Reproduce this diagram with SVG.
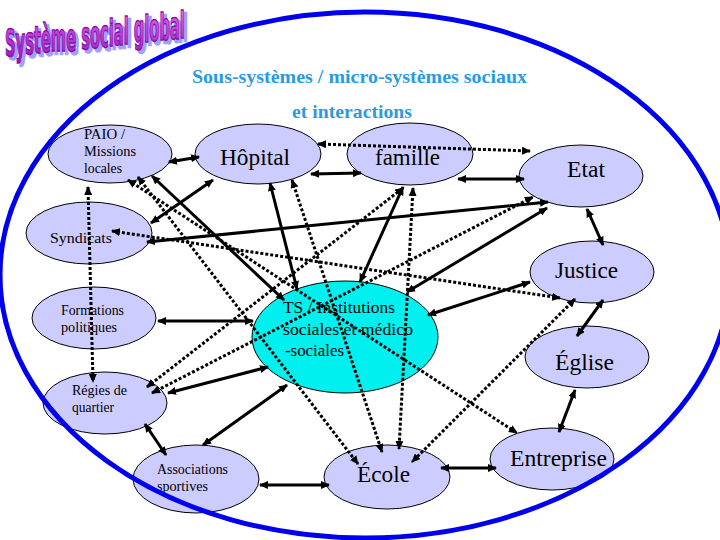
<svg xmlns="http://www.w3.org/2000/svg" width="720" height="540" viewBox="0 0 720 540">
<style>
.n{fill:#ccccff;stroke:#000;stroke-width:1}
.ts{fill:#00f0f0;stroke:#000;stroke-width:1}
text.t{font-family:'Liberation Serif','Times New Roman','DejaVu Serif',serif;fill:#000}
.s{font-size:14px}
.b{font-size:23px}
.m{font-size:17px}
.sol{stroke:#000;stroke-width:3;fill:none;marker-start:url(#ah);marker-end:url(#ah)}
.dot{stroke:#000;stroke-width:3;fill:none;stroke-dasharray:3 2;marker-start:url(#ah);marker-end:url(#ah)}
text.sub{font-family:'Liberation Serif','Times New Roman','DejaVu Serif',serif;font-weight:bold;font-size:19px;fill:#2b9be0}
text.wa{font-family:'Liberation Sans Narrow','DejaVu Sans Condensed','DejaVu Sans',sans-serif;font-weight:bold;font-size:38px}
</style>
<defs>
<marker id="ah" markerUnits="userSpaceOnUse" markerWidth="9" markerHeight="8" viewBox="0 0 9 8" refX="8" refY="4" orient="auto-start-reverse">
<path d="M0,0 L9,4 L0,8 z" fill="#000"/>
</marker>
<linearGradient id="wag" x1="0" y1="0" x2="0" y2="1">
<stop offset="0" stop-color="#f070f0"/>
<stop offset="1" stop-color="#9010c0"/>
</linearGradient>
</defs>
<rect width="720" height="540" fill="#fff"/>

<g id="paio"><ellipse class="n" cx="110" cy="154" rx="62" ry="29"/>
<text class="t s" x="84" y="139" textLength="41" lengthAdjust="spacingAndGlyphs">PAIO /</text><text class="t s" x="84" y="156" textLength="52" lengthAdjust="spacingAndGlyphs">Missions</text><text class="t s" x="84" y="173" textLength="38" lengthAdjust="spacingAndGlyphs">locales</text></g>
<g id="hopital"><ellipse class="n" cx="258" cy="154" rx="63" ry="30"/>
<text class="t b" x="220" y="165" textLength="70" lengthAdjust="spacingAndGlyphs">Hôpital</text></g>
<g id="famille"><ellipse class="n" cx="410" cy="154" rx="63" ry="31"/>
<text class="t b" x="375" y="165" textLength="65" lengthAdjust="spacingAndGlyphs">famille</text></g>
<g id="etat"><ellipse class="n" cx="581" cy="176" rx="62" ry="31"/>
<text class="t b" x="567" y="177" textLength="38" lengthAdjust="spacingAndGlyphs">Etat</text></g>
<g id="syndicats"><ellipse class="n" cx="89" cy="233" rx="63" ry="31"/>
<text class="t s" x="50" y="243" textLength="62" lengthAdjust="spacingAndGlyphs">Syndicats</text></g>
<g id="justice"><ellipse class="n" cx="592" cy="272" rx="62" ry="31"/>
<text class="t b" x="555" y="278" textLength="63" lengthAdjust="spacingAndGlyphs">Justice</text></g>
<g id="ts"><ellipse class="ts" cx="345" cy="337" rx="93" ry="56"/>
<text class="t m" x="283" y="313" textLength="112" lengthAdjust="spacingAndGlyphs">TS / Institutions</text><text class="t m" x="283" y="335" textLength="130" lengthAdjust="spacingAndGlyphs">sociales et médico</text><text class="t m" x="285" y="356" textLength="59" lengthAdjust="spacingAndGlyphs">-sociales</text></g>
<g id="formations"><ellipse class="n" cx="94" cy="318" rx="62" ry="31"/>
<text class="t s" x="61" y="315" textLength="63" lengthAdjust="spacingAndGlyphs">Formations</text><text class="t s" x="61" y="332" textLength="56" lengthAdjust="spacingAndGlyphs">politiques</text></g>
<g id="eglise"><ellipse class="n" cx="587" cy="357" rx="62" ry="31"/>
<text class="t b" x="555" y="370" textLength="59" lengthAdjust="spacingAndGlyphs">Église</text></g>
<g id="regies"><ellipse class="n" cx="105" cy="403" rx="62" ry="31"/>
<text class="t s" x="72" y="395" textLength="55" lengthAdjust="spacingAndGlyphs">Régies de</text><text class="t s" x="72" y="412" textLength="42" lengthAdjust="spacingAndGlyphs">quartier</text></g>
<g id="associations"><ellipse class="n" cx="196" cy="479" rx="63" ry="34"/>
<text class="t s" x="157" y="474" textLength="71" lengthAdjust="spacingAndGlyphs">Associations</text><text class="t s" x="157" y="491" textLength="51" lengthAdjust="spacingAndGlyphs">sportives</text></g>
<g id="ecole"><ellipse class="n" cx="387" cy="477" rx="63" ry="32"/>
<text class="t b" x="357" y="482" textLength="53" lengthAdjust="spacingAndGlyphs">École</text></g>
<g id="entreprise"><ellipse class="n" cx="552" cy="459" rx="62" ry="31"/>
<text class="t b" x="510" y="466" textLength="97" lengthAdjust="spacingAndGlyphs">Entreprise</text></g>

<g id="connectors">
<line class="sol" x1="169" y1="162" x2="199" y2="157"/>
<line class="sol" x1="311" y1="174" x2="361" y2="173"/>
<line class="sol" x1="458" y1="179" x2="524" y2="179"/>
<line class="sol" x1="587" y1="209" x2="603" y2="245"/>
<line class="sol" x1="603" y1="300" x2="577" y2="336"/>
<line class="sol" x1="575" y1="390" x2="559" y2="432"/>
<line class="sol" x1="441" y1="468" x2="496" y2="468"/>
<line class="sol" x1="260" y1="485" x2="329" y2="485"/>
<line class="sol" x1="145" y1="424" x2="166" y2="455"/>
<line class="sol" x1="151" y1="223" x2="213" y2="180"/>
<line class="sol" x1="147" y1="242" x2="548" y2="202"/>
<line class="sol" x1="152" y1="176" x2="284" y2="300"/>
<line class="sol" x1="270" y1="183" x2="297" y2="289"/>
<line class="sol" x1="403" y1="187" x2="360" y2="282"/>
<line class="sol" x1="407" y1="292" x2="547" y2="208"/>
<line class="sol" x1="428" y1="315" x2="530" y2="282"/>
<line class="sol" x1="158" y1="321" x2="253" y2="321"/>
<line class="sol" x1="168" y1="393" x2="268" y2="367"/>
<line class="sol" x1="203" y1="445" x2="287" y2="385"/>
<line class="dot" x1="318" y1="144" x2="530" y2="151"/>
<line class="dot" x1="88" y1="187" x2="93" y2="382"/>
<line class="dot" x1="112" y1="231" x2="560" y2="298"/>
<line class="dot" x1="128" y1="180" x2="517" y2="433"/>
<line class="dot" x1="138" y1="177" x2="358" y2="464"/>
<line class="dot" x1="292" y1="180" x2="382" y2="452"/>
<line class="dot" x1="413" y1="188" x2="399" y2="449"/>
<line class="dot" x1="575" y1="299" x2="412" y2="462"/>
<line class="dot" x1="147" y1="387" x2="403" y2="188"/>
<line class="dot" x1="152" y1="393" x2="533" y2="197"/>
</g>

<ellipse cx="365" cy="275" rx="365" ry="263" fill="none" stroke="#0000ee" stroke-width="5"/>

<text class="sub" x="192" y="83" textLength="335" lengthAdjust="spacingAndGlyphs">Sous-systèmes / micro-systèmes sociaux</text>
<text class="sub" x="292" y="118" textLength="120" lengthAdjust="spacingAndGlyphs">et interactions</text>

<g id="title" transform="translate(5 0) scale(0.81 1)">
<text class="wa" x="3.7" y="59 58.1 57.2 56.3 55.4 54.5 53.6 52.7 51.8 50.9 50 49.1 48.2 47.3 46.4 45.5 44.6 43.7 42.8 41.9 41" textLength="222" lengthAdjust="spacingAndGlyphs" fill="#a0a0ff" stroke="#a0a0ff" stroke-width="2.5">Système social global</text>
<text class="wa" x="0" y="56 55.1 54.2 53.3 52.4 51.5 50.6 49.7 48.8 47.9 47 46.1 45.2 44.3 43.4 42.5 41.6 40.7 39.8 38.9 38" textLength="222" lengthAdjust="spacingAndGlyphs" fill="url(#wag)" stroke="#8a10a0" stroke-width="1.5">Système social global</text>
</g>
</svg>
